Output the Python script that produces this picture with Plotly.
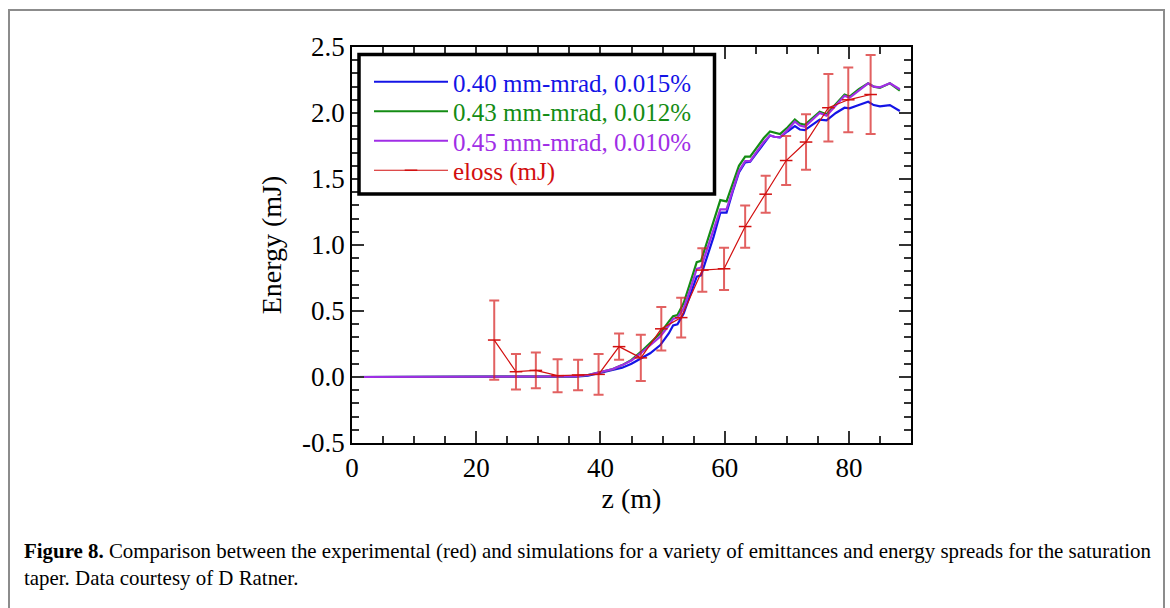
import plotly.graph_objects as go

# ---- simulated pulse energy along the undulator ----
z_sim = [0, 33, 36, 38, 40, 42, 43.5, 45, 46.5, 48, 49.6, 51, 51.7, 52.4, 53.4, 54.5,
         55.5, 56.2, 57.2, 58.2, 59.3, 60.3, 61.4, 62.3, 63.3, 64.1, 65.2, 66.3, 67.3,
         68.0, 68.9, 70.1, 71.3, 72.1, 72.9, 74.1, 75.3, 76.4, 77.9, 79.3, 80.1, 81.6,
         83.1, 84.0, 85.0, 86.6, 88.2]

e_040 = [0, 0, 0.003, 0.01, 0.03, 0.05, 0.07, 0.10, 0.14, 0.18, 0.24, 0.33, 0.39, 0.40,
         0.48, 0.62, 0.76, 0.77, 0.91, 1.06, 1.245, 1.245, 1.42, 1.55, 1.625, 1.63, 1.70,
         1.77, 1.83, 1.82, 1.815, 1.86, 1.90, 1.875, 1.87, 1.91, 1.95, 1.945, 2.00, 2.04,
         2.035, 2.06, 2.085, 2.06, 2.05, 2.06, 2.015]

e_043 = [0, 0, 0.005, 0.015, 0.035, 0.06, 0.09, 0.13, 0.19, 0.26, 0.33, 0.42, 0.46, 0.47,
         0.56, 0.72, 0.87, 0.88, 1.03, 1.19, 1.34, 1.33, 1.48, 1.60, 1.67, 1.67, 1.74,
         1.81, 1.86, 1.85, 1.84, 1.89, 1.95, 1.92, 1.91, 1.96, 2.01, 1.99, 2.07, 2.14,
         2.125, 2.18, 2.225, 2.20, 2.19, 2.225, 2.17]

e_045 = [0, 0, 0.005, 0.015, 0.035, 0.06, 0.09, 0.125, 0.18, 0.24, 0.305, 0.39, 0.44, 0.45,
         0.52, 0.67, 0.82, 0.83, 0.97, 1.11, 1.27, 1.27, 1.42, 1.56, 1.635, 1.635, 1.71,
         1.78, 1.83, 1.82, 1.815, 1.87, 1.935, 1.905, 1.895, 1.95, 2.00, 1.98, 2.06, 2.13,
         2.115, 2.17, 2.225, 2.20, 2.195, 2.225, 2.18]

# ---- measured energy loss with uncertainty ----
z_meas = [22.9, 26.4, 29.6, 33.1, 36.4, 39.7, 43.0, 46.5, 49.8, 53.0, 56.4, 59.9, 63.3,
          66.6, 69.9, 73.1, 76.7, 79.9, 83.5]
e_meas = [0.28, 0.04, 0.05, 0.01, 0.015, 0.02, 0.23, 0.145, 0.365, 0.45, 0.81, 0.82, 1.14,
          1.385, 1.64, 1.78, 2.04, 2.10, 2.14]
e_err = [0.30, 0.135, 0.135, 0.125, 0.115, 0.155, 0.10, 0.175, 0.165, 0.15, 0.165, 0.16,
         0.16, 0.14, 0.185, 0.21, 0.255, 0.245, 0.30]

y_ticks = [-0.5, 0.0, 0.5, 1.0, 1.5, 2.0, 2.5]
y_ticktext = ["-0.5", "0.0", "0.5", "1.0", "1.5", "2.0", "2.5"]
x_ticks = [0, 20, 40, 60, 80]

BLUE = "#1414e6"
GREEN = "#148c14"
PURPLE = "#a02ee6"
RED = "#d20f0f"
SERIF = "Liberation Serif, Times New Roman, serif"

W, H = 1170, 608
L, R, T, B = 352, 911, 47, 443  # plot area edges in pixels


def px(x):
    return (x - L) / (R - L)


def py(y):
    return (B - y) / (B - T)


def lab(text, color):
    return f"<span style='color:{color}'>{text}</span>"


fig = go.Figure()
fig.add_trace(go.Scatter(x=z_sim, y=e_040, mode="lines", line=dict(color=BLUE, width=2.2),
                         name=lab("0.40 mm-mrad, 0.015%", BLUE), legend="legend"))
fig.add_trace(go.Scatter(x=z_sim, y=e_043, mode="lines", line=dict(color=GREEN, width=2.2),
                         name=lab("0.43 mm-mrad, 0.012%", GREEN), legend="legend2"))
fig.add_trace(go.Scatter(x=z_sim, y=e_045, mode="lines", line=dict(color=PURPLE, width=2.2),
                         name=lab("0.45 mm-mrad, 0.010%", PURPLE), legend="legend3"))
fig.add_trace(go.Scatter(
    x=z_meas, y=e_meas, mode="lines+markers",
    line=dict(color=RED, width=1.2),
    marker=dict(symbol="line-ew", size=9, line=dict(color=RED, width=1.5)),
    error_y=dict(type="data", array=e_err, visible=True, color="rgba(214,30,30,0.7)",
                 thickness=2, width=5),
    name=lab("eloss (mJ)", RED), legend="legend4"))

axis_common = dict(showline=True, linecolor="black", linewidth=1.5, mirror="ticks",
                   ticks="inside", ticklen=12, tickwidth=1.5, tickcolor="#333",
                   showgrid=False, zeroline=False,
                   tickfont=dict(family=SERIF, size=27, color="black"))

fig.update_xaxes(range=[0, 90], tickvals=x_ticks, **axis_common,
                 minor=dict(dtick=5, ticks="inside", ticklen=7, tickwidth=1.5, tickcolor="#333"),
                 title=dict(text="z (m)", font=dict(family=SERIF, size=28, color="black"),
                            standoff=1))
fig.update_yaxes(range=[-0.5, 2.5], tickvals=y_ticks, ticktext=y_ticktext, **axis_common,
                 minor=dict(dtick=0.1, ticks="inside", ticklen=7, tickwidth=1.5, tickcolor="#333"),
                 title=dict(text="Energy (mJ)", font=dict(family=SERIF, size=28, color="black"),
                            standoff=12))

shapes = [
    # outer frame of the figure panel
    dict(type="rect", xref="paper", yref="paper", x0=px(9), x1=px(1164), y0=py(620), y1=py(10),
         line=dict(color="#8c8c8c", width=2), fillcolor="rgba(0,0,0,0)", layer="below"),
    # legend box
    dict(type="rect", xref="paper", yref="paper", x0=px(359), x1=px(714.5), y0=py(194), y1=py(54.5),
         line=dict(color="black", width=3.5), fillcolor="white", layer="above"),
]

caption = [
    dict(text="<b>Figure 8.</b> Comparison between the experimental (red) and simulations for a variety "
              "of emittances and energy spreads for the saturation",
         x=px(22), y=py(551)),
    dict(text="taper. Data courtesy of D Ratner.", x=px(22), y=py(578)),
]
annotations = [dict(xref="paper", yref="paper", xanchor="left", yanchor="middle", showarrow=False,
                    font=dict(family=SERIF, size=20.9, color="black"), **c) for c in caption]

# one single-entry legend per row so the rows sit at fixed heights
legend_rows = {"legend": 82, "legend2": 111.5, "legend3": 141, "legend4": 170.5}
legend_layout = {
    key: dict(x=px(369), y=py(yc), xanchor="left", yanchor="middle",
              bgcolor="rgba(0,0,0,0)", borderwidth=0,
              font=dict(family=SERIF, size=25), itemwidth=74)
    for key, yc in legend_rows.items()
}

fig.update_layout(
    width=W, height=H,
    margin=dict(l=L, r=W - R, t=T, b=H - B, pad=0),
    paper_bgcolor="white", plot_bgcolor="white",
    showlegend=True,
    shapes=shapes,
    annotations=annotations,
    **legend_layout,
)

fig.write_html("out.html")
